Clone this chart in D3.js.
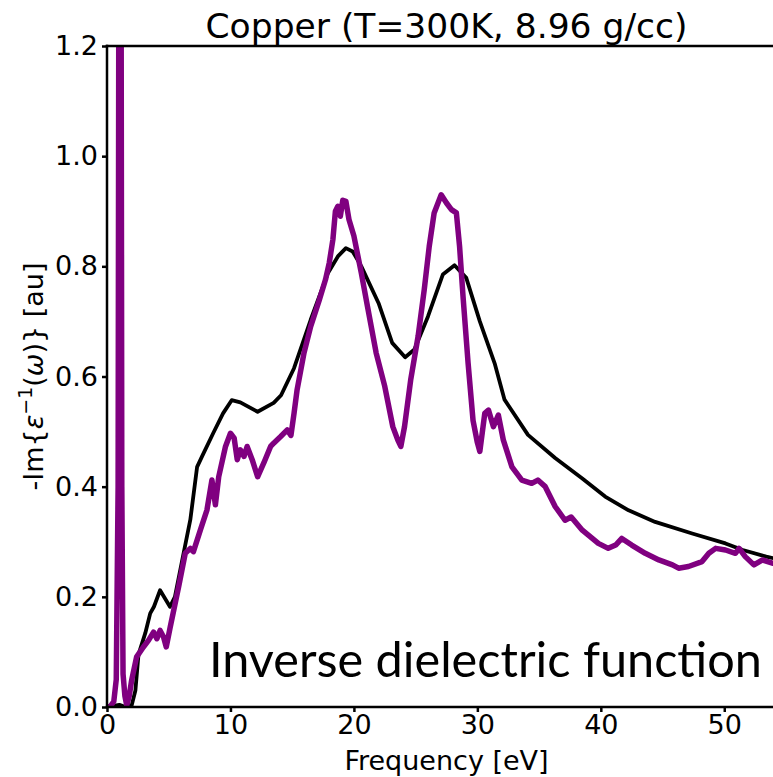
<!DOCTYPE html>
<html>
<head>
<meta charset="utf-8">
<script src="https://cdn.jsdelivr.net/npm/d3@7"></script>
<style>
  body { margin: 0; background: #fff; }
  svg { display: block; }
</style>
</head>
<body>
<div class="container"></div>
<script>
// DATA
const titleText = 'Copper (T=300K, 8.96 g/cc)'
const xTicks = [0, 10, 20, 30, 40, 50]
const yTicks = [0.0, 0.2, 0.4, 0.6, 0.8, 1.0, 1.2]

// black curve: [frequency eV, -Im(1/eps)]
const blackCurve = [
  [0.0, 0.0], [0.5, 0.002], [1.0, 0.004], [1.5, 0.0], [2.0, 0.003], [2.3, 0.03],
  [2.55, 0.095], [3.1, 0.134], [3.5, 0.17], [3.8, 0.182], [4.3, 0.212], [5.1, 0.182],
  [5.5, 0.2], [6.3, 0.29], [6.75, 0.34], [7.3, 0.436], [7.7, 0.455], [8.6, 0.497],
  [9.4, 0.533], [10.1, 0.557], [10.8, 0.553], [12.2, 0.536], [13.5, 0.552], [14.1, 0.566],
  [15.15, 0.615], [16.5, 0.703], [17.9, 0.788], [18.7, 0.818], [19.35, 0.833], [19.9, 0.827],
  [20.6, 0.80], [22.0, 0.733], [23.1, 0.661], [24.15, 0.635], [24.9, 0.649], [26.0, 0.709],
  [27.2, 0.785], [28.15, 0.802], [29.1, 0.779], [30.2, 0.70], [31.4, 0.624], [32.2, 0.558],
  [34.1, 0.494], [36.3, 0.452], [38.5, 0.415], [40.35, 0.382], [42.25, 0.357], [44.4, 0.336],
  [47.4, 0.315], [50.1, 0.297], [51.5, 0.285], [53.4, 0.273], [55.0, 0.265]
]

// purple curve (noisy one)
const purpleCurve = [
  [0.0, 0.0], [0.3, 0.002], [0.55, 0.01], [0.75, 0.05], [0.9, 0.4], [1.0, 2.0],
  [1.1, 2.0], [1.2, 0.4], [1.3, 0.06], [1.45, 0.02], [1.6, 0.003], [1.8, 0.02],
  [2.0, 0.049], [2.4, 0.091], [2.95, 0.109], [3.36, 0.121], [3.77, 0.136], [4.04, 0.124],
  [4.3, 0.139], [4.58, 0.127], [4.8, 0.109], [5.12, 0.145], [5.8, 0.218], [6.34, 0.279],
  [6.75, 0.288], [7.0, 0.282], [7.56, 0.321], [8.1, 0.358], [8.5, 0.412], [8.78, 0.367],
  [9.05, 0.418], [9.6, 0.473], [10.0, 0.497], [10.3, 0.488], [10.55, 0.449], [10.8, 0.467],
  [11.1, 0.455], [11.35, 0.473], [11.76, 0.449], [12.2, 0.418], [12.7, 0.443], [13.25, 0.473],
  [13.5, 0.479], [14.07, 0.491], [14.6, 0.503], [14.9, 0.493], [15.15, 0.533], [15.4, 0.576],
  [15.96, 0.643], [16.5, 0.691], [17.2, 0.739], [17.7, 0.776], [18.0, 0.806], [18.3, 0.849],
  [18.5, 0.90], [18.7, 0.909], [18.9, 0.891], [19.1, 0.92], [19.35, 0.918], [19.6, 0.885],
  [20.0, 0.855], [20.6, 0.788], [21.1, 0.727], [21.8, 0.643], [22.5, 0.582], [23.15, 0.509],
  [23.55, 0.485], [23.8, 0.473], [24.1, 0.509], [24.6, 0.594], [25.2, 0.673], [25.7, 0.758],
  [26.1, 0.836], [26.5, 0.897], [27.07, 0.930], [27.5, 0.915], [27.9, 0.903], [28.3, 0.897],
  [28.56, 0.836], [28.84, 0.745], [29.25, 0.624], [29.65, 0.52], [30.0, 0.48], [30.2, 0.464],
  [30.6, 0.533], [30.9, 0.539], [31.3, 0.509], [31.7, 0.53], [32.1, 0.485], [32.8, 0.436],
  [33.6, 0.412], [34.4, 0.406], [34.9, 0.412], [35.5, 0.40], [36.3, 0.364], [37.1, 0.339],
  [37.6, 0.345], [38.5, 0.321], [39.8, 0.297], [40.6, 0.288], [41.2, 0.294], [41.7, 0.306],
  [42.5, 0.294], [43.6, 0.279], [44.7, 0.267], [45.8, 0.258], [46.3, 0.252], [47.1, 0.255],
  [48.2, 0.264], [48.75, 0.279], [49.3, 0.288], [50.1, 0.285], [50.9, 0.279], [51.2, 0.288],
  [51.7, 0.273], [52.4, 0.258], [53.1, 0.267], [53.9, 0.261], [55.0, 0.258]
]

// LAYOUT
var width = 773
    , height = 777
    , plot = {left: 107, right: 786, top: 46, bottom: 707};

// COLORS
const black = '#000000'
const purple = '#800080'

// SCALES
var x = d3.scaleLinear()
        .domain([0, 55])
        .range([plot.left, plot.right])

var y = d3.scaleLinear()
        .domain([0, 1.2])
        .range([plot.bottom, plot.top])

var line = d3.line()
        .x(function(d) { return x(d[0]); })
        .y(function(d) { return y(d[1]); })

var svg = d3.select('body div.container').append('svg')
    .attr('width', width)
    .attr('height', height)
    .style('font-family', 'DejaVu Sans, sans-serif')

svg.append('rect')
    .attr('width', width).attr('height', height).attr('fill', '#fff')

svg.append('clipPath').attr('id', 'plotclip')
  .append('rect')
    .attr('x', plot.left).attr('y', plot.top)
    .attr('width', plot.right - plot.left)
    .attr('height', plot.bottom - plot.top)

// curves
let curves = svg.append('g').attr('clip-path', 'url(#plotclip)')

curves.append('path')
    .datum(blackCurve)
    .attr('d', line)
    .attr('fill', 'none')
    .attr('stroke', black)
    .attr('stroke-width', 3.8)
    .attr('stroke-linejoin', 'round')

curves.append('path')
    .datum(purpleCurve)
    .attr('d', line)
    .attr('fill', 'none')
    .attr('stroke', purple)
    .attr('stroke-width', 5.5)
    .attr('stroke-linejoin', 'round')

// axes
let xAxis = svg.append('g')
    .attr('transform', `translate(0,${plot.bottom})`)
    .call(d3.axisBottom(x).tickValues(xTicks).tickSize(5).tickPadding(3)
          .tickFormat(d3.format('d')))

let yAxis = svg.append('g')
    .attr('transform', `translate(${plot.left},0)`)
    .call(d3.axisLeft(y).tickValues(yTicks).tickSize(5).tickPadding(4)
          .tickFormat(d3.format('.1f')))

svg.selectAll('.domain').remove()
svg.selectAll('.tick line').attr('stroke', black).attr('stroke-width', 2.5)
svg.selectAll('.tick text')
    .attr('fill', black)
    .style('font-size', '27px')
    .style('font-family', 'DejaVu Sans, sans-serif')

// spines
let spines = svg.append('g')
    .attr('stroke', black)
    .attr('stroke-width', 2.5)
    .attr('stroke-linecap', 'square')

spines.append('line')
    .attr('x1', plot.left).attr('x2', plot.left)
    .attr('y1', plot.top).attr('y2', plot.bottom)
spines.append('line')
    .attr('x1', plot.left).attr('x2', plot.right)
    .attr('y1', plot.bottom).attr('y2', plot.bottom)
spines.append('line')
    .attr('x1', plot.left).attr('x2', plot.right)
    .attr('y1', plot.top).attr('y2', plot.top)
spines.append('line')
    .attr('x1', plot.right).attr('x2', plot.right)
    .attr('y1', plot.top).attr('y2', plot.bottom)

// title
svg.append('text')
    .attr('x', (plot.left + plot.right) / 2)
    .attr('y', 38)
    .attr('text-anchor', 'middle')
    .style('font-size', '34.5px')
    .text(titleText)

// x label
svg.append('text')
    .attr('x', (plot.left + plot.right) / 2)
    .attr('y', 770)
    .attr('text-anchor', 'middle')
    .style('font-size', '27px')
    .text('Frequency [eV]')

// y label with math
let ylab = svg.append('text')
    .attr('transform', `translate(43,${(plot.top + plot.bottom) / 2}) rotate(-90)`)
    .attr('text-anchor', 'middle')
    .style('font-size', '27px')

ylab.append('tspan').text('-Im{')
ylab.append('tspan').style('font-style', 'italic').text('ε')
ylab.append('tspan').attr('dy', -11).style('font-size', '19px').text('−1')
ylab.append('tspan').attr('dy', 11).text('(')
ylab.append('tspan').style('font-style', 'italic').text('ω')
ylab.append('tspan').text(')} [au]')

// annotation
svg.append('text')
    .attr('x', 209)
    .attr('y', 677)
    .attr('textLength', 553)
    .attr('lengthAdjust', 'spacingAndGlyphs')
    .style('font-family', 'Lato, sans-serif')
    .style('font-size', '49px')
    .text('Inverse dielectric function')
</script>
</body>
</html>
